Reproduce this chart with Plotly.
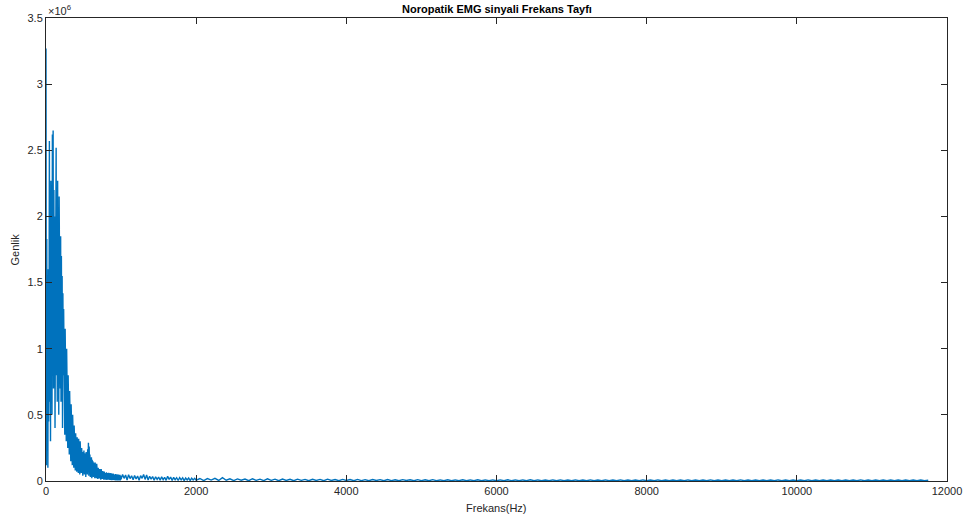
import numpy as np
import plotly.graph_objects as go

# Amplitudes in units of 1e6 (axis shows "x10^6" multiplier)
# Segment A: 0 - 995 Hz, bin step 5 Hz
seg_a_start, seg_a_step = 0, 5
seg_a = [
    3.27, 0.12, 1.83, 0.35, 1.2, 0.1, 1.6, 0.45, 0.9, 2.57,
    0.6, 2.1, 0.3, 2.27, 0.8, 1.9, 0.5, 2.62, 1.1, 2.65,
    0.7, 2.2, 0.9, 2.0, 0.4, 2.27, 1.2, 2.52, 0.8, 2.1,
    0.6, 2.27, 1.0, 1.95, 0.5, 2.15, 0.9, 1.9, 0.7, 1.85,
    0.6, 1.7, 0.9, 1.55, 0.4, 1.42, 0.8, 1.3, 0.5, 1.2,
    0.35, 1.15, 0.7, 1.05, 0.3, 1.0, 0.55, 0.9, 0.25, 0.8,
    0.45, 0.72, 0.2, 0.68, 0.35, 0.6, 0.15, 0.58, 0.3, 0.52,
    0.12, 0.5, 0.25, 0.44, 0.1, 0.42, 0.2, 0.38, 0.08, 0.36,
    0.18, 0.34, 0.07, 0.33, 0.15, 0.3, 0.06, 0.32, 0.14, 0.28,
    0.05, 0.3, 0.12, 0.26, 0.06, 0.25, 0.1, 0.24, 0.04, 0.22,
    0.1, 0.23, 0.05, 0.21, 0.09, 0.2, 0.03, 0.22, 0.08, 0.19,
    0.05, 0.24, 0.07, 0.29, 0.04, 0.26, 0.08, 0.2, 0.03, 0.17,
    0.06, 0.18, 0.02, 0.16, 0.05, 0.15, 0.03, 0.14, 0.05, 0.13,
    0.02, 0.14, 0.04, 0.12, 0.02, 0.13, 0.04, 0.11, 0.015, 0.1,
    0.04, 0.1, 0.02, 0.09, 0.03, 0.085, 0.01, 0.09, 0.03, 0.08,
    0.015, 0.075, 0.03, 0.07, 0.01, 0.072, 0.025, 0.065, 0.01, 0.06,
    0.025, 0.065, 0.008, 0.06, 0.02, 0.058, 0.01, 0.062, 0.02, 0.055,
    0.008, 0.06, 0.02, 0.052, 0.006, 0.058, 0.018, 0.05, 0.007, 0.055,
    0.016, 0.05, 0.006, 0.048, 0.015, 0.052, 0.005, 0.046, 0.014, 0.05,
    0.005, 0.045, 0.013, 0.048, 0.004, 0.042, 0.012, 0.046, 0.004, 0.04,
]

# Segment B: 1000 - 1980 Hz, bin step 20 Hz
seg_b_start, seg_b_step = 1000, 20
seg_b = [
    0.012, 0.05, 0.02, 0.045, 0.008, 0.048, 0.018, 0.04, 0.01, 0.042,
    0.015, 0.038, 0.006, 0.04, 0.02, 0.05, 0.012, 0.046, 0.008, 0.036,
    0.014, 0.034, 0.005, 0.032, 0.012, 0.03, 0.006, 0.031, 0.01, 0.028,
    0.005, 0.035, 0.012, 0.03, 0.004, 0.027, 0.01, 0.025, 0.004, 0.026,
    0.009, 0.024, 0.003, 0.022, 0.008, 0.023, 0.003, 0.021, 0.008, 0.02,
]

# Segment C: 2000 - 11750 Hz, bin step 50 Hz
seg_c_start, seg_c_step = 2000, 50
seg_c = [
    0.006, 0.019, 0.003, 0.018, 0.007, 0.02, 0.004, 0.025, 0.006, 0.017,
    0.003, 0.016, 0.006, 0.015, 0.002, 0.017, 0.005, 0.014, 0.003, 0.016,
    0.005, 0.014, 0.002, 0.015, 0.004, 0.013, 0.002, 0.014, 0.005, 0.012,
    0.002, 0.013, 0.004, 0.012, 0.002, 0.014, 0.004, 0.011, 0.002, 0.012,
    0.004, 0.011, 0.002, 0.012, 0.003, 0.01, 0.002, 0.011, 0.004, 0.01,
    0.002, 0.011, 0.003, 0.009, 0.002, 0.01, 0.004, 0.009, 0.002, 0.01,
    0.003, 0.009, 0.002, 0.01, 0.003, 0.008, 0.002, 0.009, 0.003, 0.008,
    0.002, 0.009, 0.003, 0.008, 0.002, 0.009, 0.003, 0.008, 0.002, 0.008,
    0.003, 0.008, 0.002, 0.009, 0.003, 0.008, 0.002, 0.008, 0.003, 0.009,
    0.002, 0.008, 0.003, 0.007, 0.002, 0.008, 0.003, 0.008, 0.002, 0.007,
    0.003, 0.008, 0.002, 0.007, 0.003, 0.008, 0.002, 0.007, 0.003, 0.008,
    0.002, 0.007, 0.003, 0.008, 0.002, 0.007, 0.003, 0.007, 0.002, 0.008,
    0.003, 0.007, 0.002, 0.008, 0.003, 0.007, 0.002, 0.007, 0.003, 0.007,
    0.002, 0.008, 0.003, 0.007, 0.002, 0.007, 0.003, 0.008, 0.002, 0.007,
    0.003, 0.007, 0.002, 0.007, 0.003, 0.008, 0.002, 0.007, 0.003, 0.007,
    0.002, 0.007, 0.003, 0.007, 0.002, 0.008, 0.003, 0.007, 0.002, 0.007,
    0.003, 0.007, 0.002, 0.008, 0.003, 0.007, 0.002, 0.007, 0.003, 0.007,
    0.002, 0.007, 0.003, 0.007, 0.002, 0.007, 0.003, 0.008, 0.002, 0.007,
    0.003, 0.007, 0.002, 0.007, 0.003, 0.007, 0.002, 0.007, 0.003, 0.007,
    0.002, 0.007, 0.003, 0.007, 0.002, 0.006,
]

x_ticks = [0, 2000, 4000, 6000, 8000, 10000, 12000]
y_ticks = [0, 0.5, 1, 1.5, 2, 2.5, 3, 3.5]
y_tick_labels = ["0", "0.5", "1", "1.5", "2", "2.5", "3", "3.5"]

title_text = "Noropatik EMG sinyali Frekans Tayfı"
x_title = "Frekans(Hz)"
y_title = "Genlik"

freq = np.concatenate([
    seg_a_start + seg_a_step * np.arange(len(seg_a)),
    seg_b_start + seg_b_step * np.arange(len(seg_b)),
    seg_c_start + seg_c_step * np.arange(len(seg_c)),
])
amp = np.concatenate([seg_a, seg_b, seg_c])

axis_color = "#262626"
font_family = "Liberation Sans, Arial, sans-serif"

fig = go.Figure()
fig.add_trace(go.Scatter(
    x=freq, y=amp, mode="lines",
    line=dict(color="#0072BD", width=1.4),
    showlegend=False, hoverinfo="skip",
))

fig.update_layout(
    width=974, height=526,
    margin=dict(l=46, r=21, t=17, b=45),
    paper_bgcolor="white", plot_bgcolor="white",
    font=dict(family=font_family, size=11, color=axis_color),
    xaxis=dict(
        range=[0, 12000], tickvals=x_ticks,
        ticktext=[str(v) for v in x_ticks],
        showgrid=False, zeroline=False,
        showline=True, linecolor=axis_color, linewidth=1, mirror="ticks",
        ticks="inside", ticklen=6, tickcolor=axis_color, tickwidth=1,
        tickfont=dict(size=11, color=axis_color),
    ),
    yaxis=dict(
        range=[0, 3.5], tickvals=y_ticks, ticktext=y_tick_labels,
        showgrid=False, zeroline=False,
        showline=True, linecolor=axis_color, linewidth=1, mirror="ticks",
        ticks="inside", ticklen=6, tickcolor=axis_color, tickwidth=1,
        tickfont=dict(size=11, color=axis_color),
    ),
    annotations=[
        dict(text="<b>" + title_text + "</b>", x=0.5, y=1, xref="paper", yref="paper",
             xanchor="center", yanchor="bottom", yshift=1, showarrow=False,
             font=dict(size=11, color="black", family=font_family)),
        dict(text=x_title, x=0.5, y=0, xref="paper", yref="paper",
             xanchor="center", yanchor="middle", yshift=-27, showarrow=False,
             font=dict(size=11, color=axis_color)),
        dict(text=y_title, x=0, y=0.5, xref="paper", yref="paper",
             xanchor="center", yanchor="middle", xshift=-32, textangle=-90,
             showarrow=False, font=dict(size=11, color=axis_color)),
        dict(text="×10<sup>6</sup>", x=0, y=1, xref="paper", yref="paper",
             xanchor="left", yanchor="bottom", xshift=0, yshift=-1,
             showarrow=False, font=dict(size=11, color=axis_color)),
    ],
)

fig.write_html("out.html")
